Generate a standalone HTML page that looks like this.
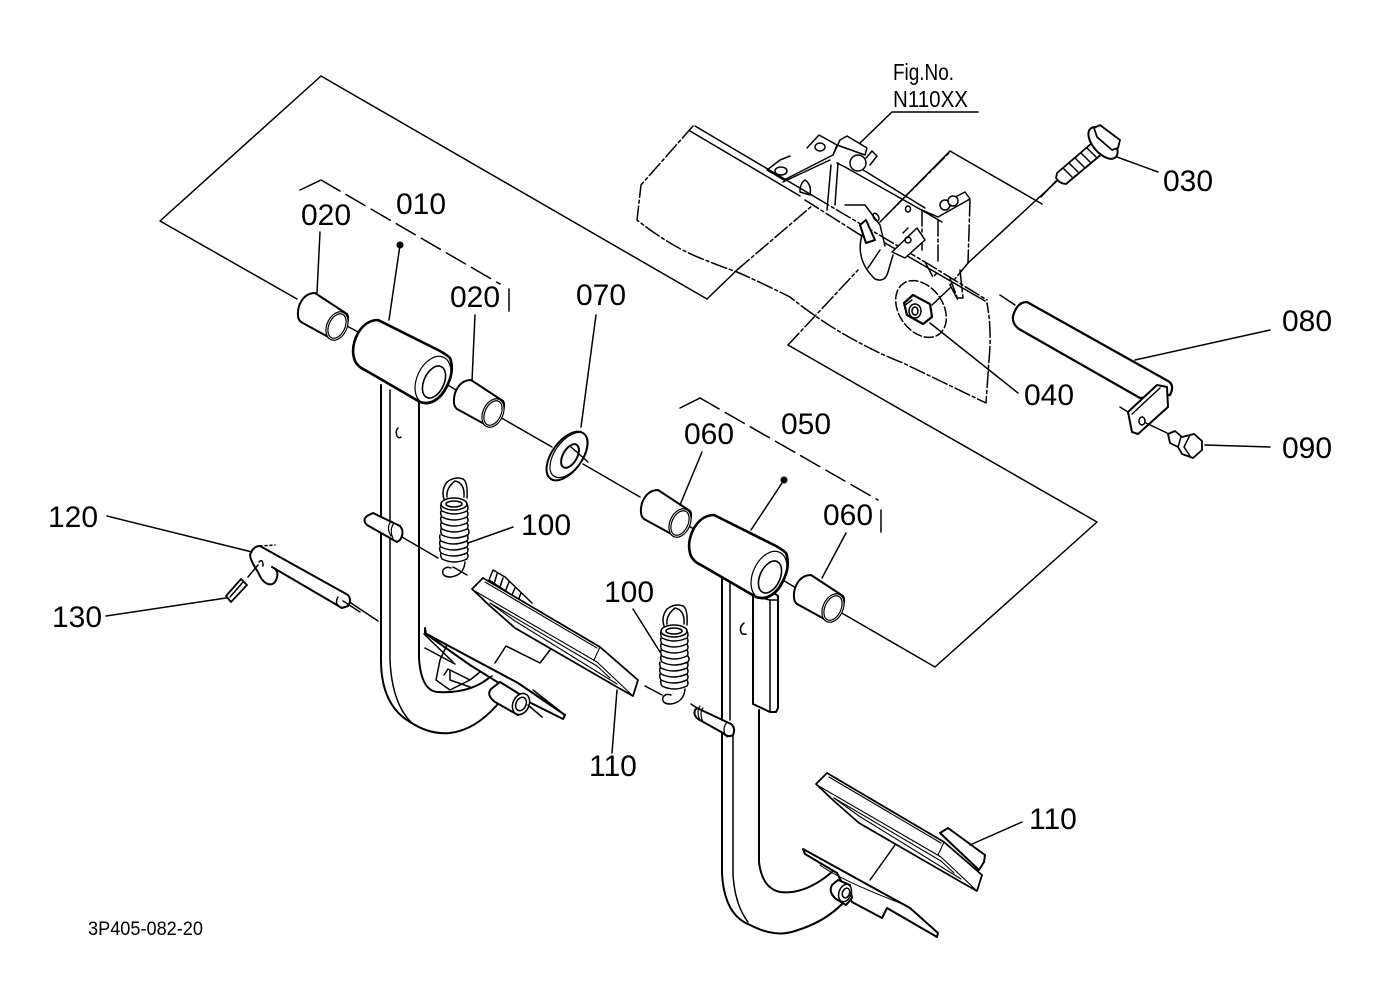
<!DOCTYPE html>
<html><head><meta charset="utf-8"><style>
html,body{margin:0;padding:0;background:#fff}
svg{display:block}
text{font-family:"Liberation Sans",sans-serif;font-size:30px;fill:#000}
.l{fill:none;stroke:#000;stroke-width:1.5;stroke-linejoin:round;stroke-linecap:round}
.t{stroke-width:2.6}
.f{fill:#fff}
.d{stroke-dasharray:16 3 3 3}
.d2{stroke-dasharray:22 7}
</style></head><body>
<svg width="1379" height="1001" viewBox="0 0 1379 1001" xmlns="http://www.w3.org/2000/svg">
<defs>
<g id="bush" class="l">
<path class="f" d="M315,293Q304,293 299,306Q296,318 301,322L332,339Q340,341 345,330Q350,318 347,314Z" style="stroke-width:2"/>
<ellipse cx="337" cy="326" rx="10" ry="15" transform="rotate(25 337 326)" class="f" style="stroke-width:1.2"/>
<ellipse cx="337" cy="326" rx="8" ry="13" transform="rotate(25 337 326)" style="stroke-width:1.2"/>
</g>
<g id="tube" class="l">
<path class="f t" d="M378,320Q366,320 358,333Q350,348 355,361Q358,367 365,370L420,402Q432,406 442,394Q456,374 450,358Q447,355 440,351Z"/>
<ellipse cx="433" cy="380" rx="16" ry="25" transform="rotate(25 433 380)" style="stroke-width:1.2"/>
<ellipse cx="434" cy="382" rx="10" ry="17" transform="rotate(25 434 382)" style="stroke-width:1.6"/>
</g>
<g id="spring" class="l">
<path d="M444,499Q441,490 447,482Q455,476 463,479Q468,482 467,498"/>
<path d="M447,497Q446,488 455,481Q465,483 464,497"/>
<path class="f" stroke="none" style="stroke:none" d="M441,500H468V565H441Z"/>
<ellipse cx="454" cy="504" rx="13" ry="6" class="f"/>
<ellipse cx="454" cy="504" rx="8" ry="3"/>
<path d="M441,504q-1,4 1,7q12,6 25,0q2,-3 0,-7"/>
<path d="M441,511q-1,3 1,6q12,6 25,0q2,-3 0,-6"/>
<path d="M441,517q-1,3 1,6q12,6 25,0q2,-3 0,-6"/>
<path d="M441,523q-1,3 1,6q12,6 25,0q2,-3 0,-6"/>
<path d="M441,529q-1,3 1,6q12,6 26,0q2,-3 0,-6"/>
<path d="M440,535q-1,3 1,6q12,6 26,0q2,-3 0,-6"/>
<path d="M440,541q-1,3 1,6q12,6 26,0q2,-3 0,-6"/>
<path d="M440,547q-1,3 1,6q12,6 26,0q2,-3 0,-6"/>
<path d="M441,553q-1,3 1,6q12,6 25,0q2,-3 0,-6"/>
<path d="M465,562Q464,575 451,577Q441,577 443,570Q446,566 451,568"/>
</g>
<g id="pedal" class="l">
<path class="f" d="M472,589L483,578L600,647L638,680L633,696L617,687L515,628L490,606Z" style="stroke-width:1.8"/>
<path d="M485,582L597,648M473,590L597,662L633,696M600,647L594,660" style="stroke-width:1.1"/>
<path d="M490,603L515,621L617,684" style="stroke-width:1.1"/>
<path d="M490,603L597,666L610,678" style="stroke-width:1.1"/>
</g>
</defs>

<rect width="1379" height="1001" fill="#fff"/>

<!-- plane outlines & axes -->
<g class="l">
<path d="M297,299L160,221L321,76L707,299"/>
<path d="M707,299L737,270"/>
<path class="d" d="M737,270L813,205"/>
<path d="M788,345L1097,522L935,667L840,612"/>
<path class="d" d="M788,345L858,270"/>
<path class="d" d="M880,222L950,152"/>
<path d="M885,217L950,151L1042,204"/>
<path d="M1058,180L968,263"/>
<path class="d" d="M968,263L950,285"/>
<path d="M1000,295L1015,305"/>
<path d="M345,325L360,333M420,368L456,390M498,416L552,447M583,464L640,497M680,520L695,530M758,565L796,588"/>
<path d="M331,318L345,326"/>
<path d="M402,537L438,558M453,567L467,575"/>
<path d="M345,599L378,621M425,648L455,664"/>
<path d="M645,686L662,695M691,704L700,710"/>
</g>

<!-- dashed bracket -->
<g class="l d2">
<path d="M300,190L321,180"/>
<path d="M321,180L500,284"/>
<path d="M509,289V317"/>
<path d="M680,408L700,398"/>
<path d="M700,398L878,500"/>
<path d="M881,510V533"/>
</g>

<!-- Bracket assembly -->
<g class="l">
<path class="d" d="M693,126L641,185L637,220Q670,246 700,258Q725,268 737,272Q760,282 790,297Q825,325 860,343Q880,354 903,363L986,403L989,360Q992,330 987,303"/>
<path d="M695,126L815,197"/>
<path d="M690,131L800,196"/>
<path class="d" d="M815,197L925,262L987,300"/>
<path class="d" d="M805,200L865,238"/>
<path d="M885,243L985,301"/>
<path d="M767,170L780,160L790,156M767,170L784,180L833,155L840,140L847,136L867,148L865,155L837,145L833,155M819,135L807,148M819,135L837,145M783,182L830,160"/>
<ellipse cx="820" cy="147" rx="5" ry="4" class="l"/>
<ellipse cx="781" cy="171" rx="6" ry="4" class="l"/>
<path d="M831,165L827,210M838,163L835,205M837,163L845,167L925,212"/>
<path class="d" d="M922,210L922,250M938,220V263M970,200L968,263"/>
<path d="M922,210L938,217L970,199L965,192L940,205"/>
<path d="M860,168L925,208M925,212L942,222"/>
<circle cx="858" cy="163" r="8" class="f"/>
<path d="M866,158L872,151L877,156L870,165"/>
<circle cx="945" cy="205" r="5" class="f"/><circle cx="953" cy="201" r="5" class="f"/>
<path d="M805,180Q812,185 810,195L800,192Q800,183 805,180Z"/>
<path d="M845,205L865,205L880,225M880,225L885,246"/>
<path d="M860,225L866,220L875,240L866,243Z" class="f" style="stroke-width:2"/>
<path d="M862,235Q855,260 875,279Q885,283 888,272L893,255M880,250L868,268"/>
<path d="M892,252L917,228L925,240L905,258Z" class="f"/>
<circle cx="908" cy="240" r="3"/><path d="M903,233l5,-5"/>
<ellipse cx="876" cy="217" rx="2.5" ry="4" transform="rotate(-30 876 217)"/>
<ellipse cx="908" cy="209" rx="2.5" ry="3"/>
<path class="d" d="M925,262l8,15l5,-5M950,285l8,15l-8,-22M960,270l3,28l-5,0"/>
<ellipse cx="921" cy="309" rx="22" ry="31" transform="rotate(-35 921 309)" class="d" style="stroke-dasharray:9 3"/>
<path d="M932,305L950,288"/>
<path class="f" d="M904,303L913,295L930,304L932,317L923,324L907,315Z" style="stroke-width:2.2"/>
<ellipse cx="915" cy="311" rx="6" ry="7" class="l"/>
<ellipse cx="915" cy="311" rx="3" ry="4"/>
<path d="M905,305L912,300"/>
</g>

<!-- Left arm -->
<g class="l">
<path class="t" style="stroke-width:2" d="M381,385V660Q381,705 410,722Q430,735 450,733Q475,730 497,705"/>
<path class="t" style="stroke-width:2" d="M419,400V658Q421,690 437,692Q470,694 490,677"/>
<path d="M390,390V660Q392,705 413,724"/>
<path d="M398,428q-3,3 -1,8 2,3 4,1"/>
</g>
<use href="#bush"/>
<use href="#tube"/>
<use href="#bush" transform="translate(156,87)"/>

<!-- washer -->
<g class="l">
<path d="M581,427L596,315"/>
<ellipse cx="567" cy="456" rx="15" ry="28" transform="rotate(36 567 456)" class="f" style="stroke-width:2"/>
<ellipse cx="569" cy="455" rx="14" ry="26" transform="rotate(36 569 455)" style="stroke-width:1.2"/>
<ellipse cx="570" cy="456" rx="7" ry="13" transform="rotate(30 570 456)" style="stroke-width:2"/>
<path d="M571,447L588,462"/>
</g>

<!-- left pin -->
<g class="l">
<path class="f" d="M373,513L400,526Q405,532 400,540L397,542L367,525Q362,520 367,516Z" style="stroke-width:2"/>
<path d="M391,521Q386,528 391,536M394,523Q389,530 393,538" style="stroke-width:1.2"/>
</g>

<use href="#spring"/>

<!-- left pedal + plate -->
<g class="l">
<path d="M493,570L489,580L527,605M493,570L505,577L532,603M497,574l-3,10M503,578l-3,9M509,582l-4,10M515,588l-4,9M521,593l-3,8"/>
<path d="M424,634L453,662"/>
<path d="M495,663L506,646L540,663L550,650"/>
<path d="M425,628L425,633L447,645L518,683L565,715L563,719L531,703L470,665L426,634Z" class="f" style="stroke-width:2"/>
<path d="M533,690L565,715"/>
<path d="M447,645L440,660L436,680L450,690L470,680L480,672M444,675L448,669L470,680M450,670V680L470,687"/>
<path d="M437,692Q470,694 492,676"/>
<path class="f" d="M500,682L529,700Q530,712 518,715L495,702Q486,695 491,689Z" style="stroke-width:2"/>
<ellipse cx="521" cy="704" rx="8" ry="11" transform="rotate(25 521 704)" class="f"/>
<ellipse cx="521" cy="704" rx="5" ry="7" transform="rotate(25 521 704)"/>
<path d="M528,705L542,717"/>
</g>
<use href="#pedal"/>

<!-- Right arm -->
<g class="l">
<path style="stroke-width:2" d="M722,578V873Q724,915 750,925Q775,938 795,931Q825,922 843,903"/>
<path style="stroke-width:2" d="M759,710V862Q762,888 780,892Q805,895 832,872"/>
<path d="M730,583V720M733,730V875Q735,905 748,922"/>
<path d="M744,623q-5,4 -3,9 1,3 5,2"/>
<path class="f" d="M753,590V704L770,712H776L778,708V596L770,590Z" style="stroke-width:2"/>
<path d="M753,596L770,600H778M770,600V711"/>
</g>
<use href="#bush" transform="translate(343,197)"/>
<use href="#tube" transform="translate(336,195)"/>
<use href="#bush" transform="translate(496,282)"/>

<!-- right pin -->
<g class="l">
<path class="f" d="M697,708L731,724Q736,728 733,735Q728,738 723,733L698,719Q693,715 695,710Z" style="stroke-width:2"/>
<path d="M700,706Q696,712 700,720M703,708Q699,713 703,722M727,722Q721,730 727,737" style="stroke-width:1.2"/>
</g>
<use href="#spring" transform="translate(220,127)"/>

<!-- right pedal -->
<g class="l">
<path class="f" d="M940,833L948,828L985,855L984,862L979,870Z" style="stroke-width:2"/>
</g>
<use href="#pedal" transform="translate(344,195)"/>
<g class="l">
<path d="M895,845L870,880"/>
<path d="M803,849L805,854L837,873L852,902L882,918L887,908L937,937L938,933L910,908Z" class="f" style="stroke-width:2"/>
<path d="M820,865Q840,880 905,905" style="stroke-width:1"/>
<path class="f" d="M838,880L850,885L852,898L846,905L836,899Q828,892 832,885Z" style="stroke-width:2"/>
<ellipse cx="845" cy="893" rx="6" ry="9" transform="rotate(20 845 893)" class="f"/>
<ellipse cx="846" cy="893" rx="3.5" ry="5" transform="rotate(20 846 893)"/>
</g>

<!-- Tube 080 -->
<g class="l">
<path class="f" d="M1027,302Q1017,302 1013,316Q1012,324 1019,329L1140,398L1170,395Q1175,385 1168,381Z" style="stroke-width:2.2"/>
<path class="f" d="M1128,412L1157,385L1167,387L1168,407L1138,434L1132,432Z" style="stroke-width:2"/>
<path d="M1132,414L1160,388M1120,407L1128,412"/>
<ellipse cx="1142" cy="421" rx="3" ry="4"/>
<path d="M1146,423L1167,433"/>
<path class="f" d="M1168,434L1175,431L1182,437L1194,434L1202,441L1202,450L1193,458L1182,454L1178,447L1170,443Z" style="stroke-width:1.8"/>
<path d="M1181,437L1178,447M1190,435L1184,447L1190,456"/>
</g>

<!-- Bolt 030 -->
<g class="l">
<path class="f" d="M1057,173L1092,143L1103,153L1066,184Q1060,184 1056,178Z" style="stroke-width:1.8"/>
<path d="M1063,168l9,9M1069,163l9,9M1075,158l9,9M1081,153l9,9M1087,148l9,9"/>
<ellipse cx="1103" cy="143" rx="10" ry="19" transform="rotate(-41 1103 143)" class="f" style="stroke-width:2"/>
<path class="f" d="M1094,128L1100,125L1120,140L1118,148L1112,150L1097,137Z" style="stroke-width:1.8"/>
<path d="M1056,181L1041,197"/>
</g>

<!-- Hairpin 120 -->
<g class="l">
<path class="f" d="M250,555Q253,546 260,546L348,595Q352,600 348,606L342,608L272,567Q279,570 277,577Q275,586 268,584Q262,582 258,572Q251,562 250,555Z" style="stroke-width:2"/>
<path d="M259,562Q263,558 263,566"/>
<path d="M338,597Q334,604 341,608M343,601L360,612"/>
<path d="M260,546L275,545" stroke-dasharray="2 3"/>
<path d="M248,577L258,565"/>
<path class="f" d="M226,596L241,579L247,585L231,602Z" style="stroke-width:1.8"/>
<path d="M230,597L243,582"/>
</g>

<!-- Leaders -->
<g class="l">
<path d="M320,232L317,293"/>
<path d="M400,245L389,320"/>
<path d="M475,315L472,381"/>
<path d="M702,452L680,505"/>
<path d="M784,480L751,530"/>
<path d="M846,533L822,578"/>
<path d="M513,527L468,543"/>
<path d="M633,609L660,652"/>
<path d="M107,516L252,552"/>
<path d="M106,616L226,598"/>
<path d="M612,753L617,690"/>
<path d="M1022,822L970,845"/>
<path d="M1158,172L1117,157"/>
<path d="M1270,330L1135,360"/>
<path d="M1018,393L930,323"/>
<path d="M1270,447L1205,445"/>
<path d="M860,143L892,112H978"/>
</g>
<circle cx="400" cy="245" r="3.5"/>
<circle cx="784" cy="480" r="3.5"/>

<!-- Text -->
<text x="301" y="225">020</text>
<text x="396" y="214">010</text>
<text x="450" y="307">020</text>
<text x="576" y="305">070</text>
<text x="684" y="444">060</text>
<text x="781" y="434">050</text>
<text x="823" y="525">060</text>
<text x="521" y="535">100</text>
<text x="604" y="602">100</text>
<text x="48" y="527">120</text>
<text x="52" y="627">130</text>
<text x="589" y="776">110</text>
<text x="1029" y="829">110</text>
<text x="1163" y="191">030</text>
<text x="1282" y="331">080</text>
<text x="1024" y="405">040</text>
<text x="1282" y="458">090</text>
<text x="893" y="80" style="font-size:23px" textLength="61" lengthAdjust="spacingAndGlyphs">Fig.No.</text>
<text x="893" y="107" style="font-size:23px" textLength="75" lengthAdjust="spacingAndGlyphs">N110XX</text>
<text x="88" y="935" style="font-size:19px" textLength="115" lengthAdjust="spacingAndGlyphs">3P405-082-20</text>
</svg>
</body></html>
